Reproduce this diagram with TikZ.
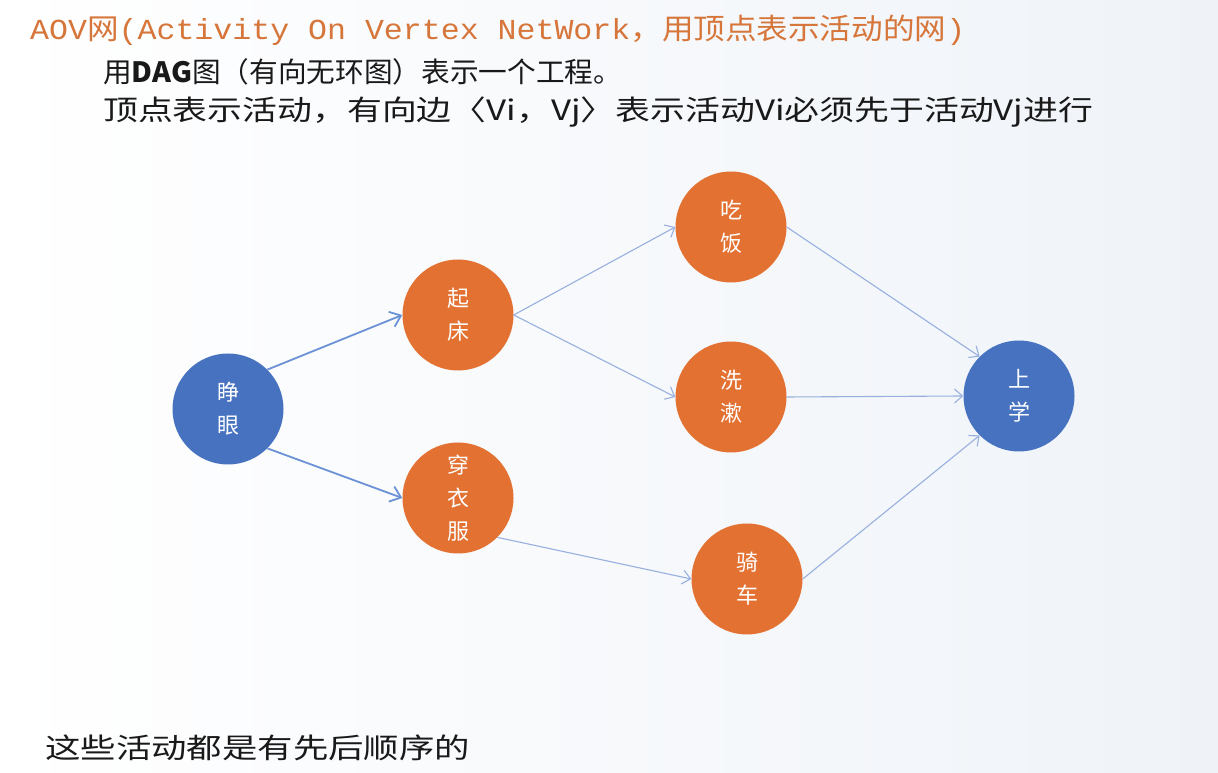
\documentclass[tikz,border=0pt]{standalone}
\usepackage{fontspec}
\setmainfont{Noto Sans CJK SC}
\newfontfamily\latinmono{Liberation Mono}
\usetikzlibrary{arrows.meta}
\definecolor{nodeorange}{RGB}{226,113,50}
\definecolor{nodeblue}{RGB}{70,114,192}
\definecolor{titleorange}{RGB}{214,118,58}
\definecolor{edgeblue}{RGB}{108,146,214}
\definecolor{edgelight}{RGB}{152,176,222}
\definecolor{bgright}{RGB}{239,243,248}
\definecolor{textblack}{RGB}{25,25,25}
\begin{document}
\begin{tikzpicture}[x=1pt,y=1pt,
  act/.style={circle, minimum size=111pt, inner sep=0pt, text=white,
    font=\fontsize{22}{33}\selectfont, align=center},
  orangeact/.style={act, fill=nodeorange},
  blueact/.style={act, fill=nodeblue},
  thickedge/.style={draw=edgeblue, line width=1.8pt,
    -{Straight Barb[length=10pt,width=16pt,line width=1.8pt]}},
  thinedge/.style={draw=edgelight, line width=1.1pt,
    -{Straight Barb[length=8pt,width=14pt,line width=1.1pt]}},
  linetext/.style={anchor=west, inner sep=0pt, text=textblack}
]
\shade[left color=white, right color=bgright] (0,0) rectangle (1218,773);
\useasboundingbox (0,0) rectangle (1218,773);

% texts
\node[linetext, text=titleorange] (title) at (30,743)
  {\resizebox{935pt}{\height}{\fontsize{29}{34}\selectfont{\latinmono AOV}网{\latinmono (Activity On Vertex NetWork}，用顶点表示活动的网{\latinmono )}}};
\node[linetext] (line2) at (103,701)
  {\resizebox{519pt}{\height}{\fontsize{28}{34}\selectfont 用\textbf{DAG}图（有向无环图）表示一个工程。}};
\node[linetext] (line3) at (103,661)
  {\resizebox{990pt}{\height}{\fontsize{28}{34}\selectfont 顶点表示活动，有向边〈Vi，Vj〉表示活动Vi必须先于活动Vj进行}};
\node[linetext] (bottom) at (45,25)
  {\resizebox{425pt}{\height}{\fontsize{28}{34}\selectfont 这些活动都是有先后顺序的}};

% activity nodes
\node[blueact]   (A) at (228,364) {睁\\眼};
\node[orangeact] (B) at (458,458) {起\\床};
\node[orangeact] (C) at (458,275) {穿\\衣\\服};
\node[orangeact] (D) at (731,546) {吃\\饭};
\node[orangeact] (E) at (731,376) {洗\\漱};
\node[orangeact] (F) at (747,194) {骑\\车};
\node[blueact]   (G) at (1019,377) {上\\学};

% edges
\draw[thickedge] (A.45) -- (B.west);
\draw[thickedge] (A.-45) -- (C.west);
\draw[thinedge] (B.east) -- (D.west);
\draw[thinedge] (B.east) -- (E.west);
\draw[thinedge] (C.-45) -- (F.west);
\draw[thinedge] (D.east) -- (G.135);
\draw[thinedge] (E.east) -- (G.west);
\draw[thinedge] (F.east) -- (G.225);
\end{tikzpicture}
\end{document}
